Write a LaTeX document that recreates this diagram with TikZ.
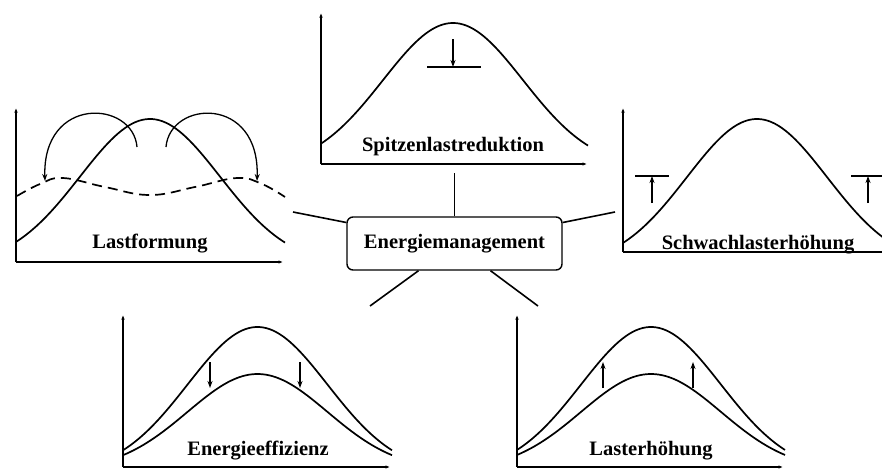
\documentclass[tikz,border=0pt]{standalone}
\usepackage{fontspec}
\setmainfont{Liberation Serif}
\usetikzlibrary{arrows.meta}
\pgfmathdeclarefunction{bellf}{1}{\pgfmathparse{1.19*(1-exp(-0.5*((#1)/70)^2))}}
\begin{document}
\begin{tikzpicture}[x=1pt,y=-1pt,
  axis/.style={line width=1.1pt,-{Latex[length=4.5pt,width=3.5pt]}},
  curve/.style={line width=1.7pt},
  lbl/.style={font=\fontsize{20.5}{24}\selectfont\bfseries, anchor=base, inner sep=0pt},
  move/.style={line width=1.3pt,-{Stealth[length=7pt,width=5pt]}},
  bar/.style={line width=1.6pt},
  link/.style={line width=1.6pt},
]
\useasboundingbox (0,0) rectangle (882,469);
\begin{scope}
\clip (0,0) rectangle (882,469);

% ---------- Lastformung ----------
\draw[axis] (16,262) -- (16,108);
\draw[axis] (16,262) -- (283,262);
\draw[curve] plot[domain=16:285,samples=80] (\x,{119+123*bellf(\x-150)});
\draw[curve,dash pattern=on 10pt off 6pt] plot[smooth,tension=0.7] coordinates
  {(17,196) (40,184) (63,178) (105,187) (150,195) (195,187) (237,178) (262,184) (285,197)};
\draw[move] (137,147) .. controls (133,100) and (42,95) .. (45,181);
\draw[move] (166,147) .. controls (170,100) and (260,95) .. (257,181);
\node[lbl] (lf) at (150,248) {Lastformung};

% ---------- Spitzenlastreduktion ----------
\draw[axis] (321,164) -- (321,13);
\draw[axis] (321,164) -- (587,164);
\draw[curve] plot[domain=321:588,samples=80] (\x,{23+122*bellf(\x-453)});
\draw[bar] (427,67) -- (481,67);
\draw[move] (453,39) -- (453,67);
\node[lbl] (sp) at (453,151) {Spitzenlastreduktion};

% ---------- Schwachlasterhöhung ----------
\draw[axis] (623,252) -- (623,108);
\draw[line width=1.1pt] (623,252) -- (890,252);
\draw[curve] plot[domain=623:890,samples=80] (\x,{119+124*bellf(\x-757)});
\draw[bar] (635,176) -- (669,176);
\draw[move] (652,203) -- (652,176);
\draw[bar] (851,176) -- (890,176);
\draw[move] (868,203) -- (868,176);
\node[lbl] (sw) at (758,249) {Schwachlasterhöhung};

% ---------- Energieeffizienz ----------
\draw[axis] (123,467) -- (123,315);
\draw[axis] (123,467) -- (390,467);
\draw[curve] plot[domain=123:392,samples=80] (\x,{327+123*bellf(\x-257.5)});
\draw[curve] plot[domain=123:392,samples=80] (\x,{374+81*bellf(\x-257.5)});
\draw[move] (210,362) -- (210,388);
\draw[move] (300,362) -- (300,388);
\node[lbl] (ee) at (258,455) {Energieeffizienz};

% ---------- Lasterhöhung ----------
\draw[axis] (517,467) -- (517,315);
\draw[axis] (517,467) -- (783,467);
\draw[curve] plot[domain=517:785,samples=80] (\x,{327+123*bellf(\x-651)});
\draw[curve] plot[domain=517:785,samples=80] (\x,{374+81*bellf(\x-651)});
\draw[move] (603,388) -- (603,362);
\draw[move] (693,388) -- (693,362);
\node[lbl] (lh) at (651,455) {Lasterhöhung};
\end{scope}

% ---------- Center ----------
\node[draw,line width=1.4pt,rounded corners=6pt,minimum width=215pt,minimum height=53pt,
      inner sep=0pt,font=\fontsize{20.5}{24}\selectfont\bfseries] (em) at (454.5,243.5) {Energiemanagement};
\coordinate (cl) at (293,212);
\coordinate (cr) at (615,212);
\coordinate (ct) at (454.5,173);
\coordinate (cbl) at (370,306);
\coordinate (cbr) at (538,306);
\draw[link] ([yshift=21pt]em.west) -- (cl);
\draw[link] ([yshift=21pt]em.east) -- (cr);
\draw[link] (em.north) -- (ct);
\draw[link] ([xshift=-36pt]em.south) -- (cbl);
\draw[link] ([xshift=36pt]em.south) -- (cbr);
\end{tikzpicture}
\end{document}
